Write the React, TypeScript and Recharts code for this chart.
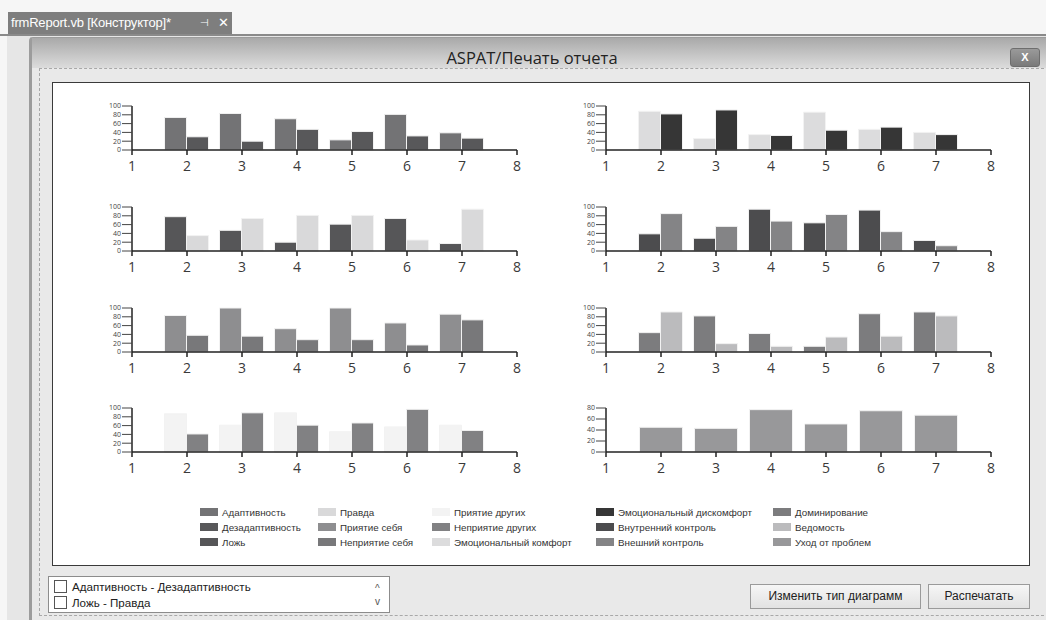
import React from 'react';
import { BarChart, Bar, XAxis, YAxis } from 'recharts';

// шкалы 2..7, ось от 1 до 8
const scaleNums = [2, 3, 4, 5, 6, 7];
const xTicks = [1, 2, 3, 4, 5, 6, 7, 8];
const yTicks100 = [0, 20, 40, 60, 80, 100];
const yTicks80 = [0, 20, 40, 60, 80];

const adaptivnost = [74, 83, 71, 23, 81, 39];
const dezadaptivnost = [30, 20, 47, 42, 32, 27];
const lozh = [78, 47, 20, 61, 74, 17];
const pravda = [35, 74, 81, 81, 25, 95];
const priyatieSebya = [83, 100, 53, 100, 66, 86];
const nepriyatieSebya = [38, 36, 28, 28, 16, 73];
const priyatieDrugih = [87, 61, 89, 46, 57, 61];
const nepriyatieDrugih = [41, 89, 61, 66, 97, 49];
const emoKomfort = [88, 26, 35, 86, 47, 40];
const emoDiskomfort = [82, 91, 33, 45, 52, 35];
const vnutrKontrol = [39, 29, 95, 64, 93, 24];
const vneshKontrol = [85, 56, 68, 83, 44, 12];
const dominirovanie = [44, 82, 42, 13, 87, 91];
const vedomost = [91, 19, 13, 34, 36, 82];
const uhod = [45, 43, 77, 51, 75, 67];

const seriesNames = [
  'Адаптивность', 'Дезадаптивность', 'Ложь',
  'Правда', 'Приятие себя', 'Неприятие себя',
  'Приятие других', 'Неприятие других', 'Эмоциональный комфорт',
  'Эмоциональный дискомфорт', 'Внутренний контроль', 'Внешний контроль',
  'Доминирование', 'Ведомость', 'Уход от проблем',
];
const seriesValues = [
  adaptivnost, dezadaptivnost, lozh,
  pravda, priyatieSebya, nepriyatieSebya,
  priyatieDrugih, nepriyatieDrugih, emoKomfort,
  emoDiskomfort, vnutrKontrol, vneshKontrol,
  dominirovanie, vedomost, uhod,
];
const COLORS = [
  '#737375', '#58585a', '#565658',
  '#d9d9da', '#8e8e90', '#78787a',
  '#f3f3f3', '#818183', '#dcdcdd',
  '#363636', '#4c4c4e', '#848486',
  '#7c7c7e', '#bbbbbd', '#98989a',
];

const checkItems = ['Адаптивность - Дезадаптивность', 'Ложь - Правда'];

// какие шкалы в каком графике + где он стоит
const charts = [
  { idx: [0, 1], left: 132, bottom: 150, yMax: 100 },
  { idx: [2, 3], left: 132, bottom: 251, yMax: 100 },
  { idx: [4, 5], left: 132, bottom: 352, yMax: 100 },
  { idx: [6, 7], left: 132, bottom: 452, yMax: 100 },
  { idx: [8, 9], left: 606, bottom: 150, yMax: 100 },
  { idx: [10, 11], left: 606, bottom: 251, yMax: 100 },
  { idx: [12, 13], left: 606, bottom: 352, yMax: 100 },
  { idx: [14], left: 606, bottom: 452, yMax: 80 },
];

const axisFont = '"Open Sans", "Noto Sans", sans-serif';
const uiFont = '"Liberation Sans", Arial, sans-serif';

function SmallChart({ idx, left, bottom, yMax }: { idx: number[]; left: number; bottom: number; yMax: number }) {
  const data = scaleNums.map((x, i) => {
    const row: Record<string, number> = { x };
    idx.forEach((s) => { row[seriesNames[s]] = seriesValues[s][i]; });
    return row;
  });
  const barSize = idx.length === 1 ? 43 : 22;
  return (
    <div style={{ position: 'absolute', left: left - 32, top: bottom - 50 }}>
      <BarChart width={440} height={90} data={data} margin={{ top: 6, right: 23, left: 0, bottom: 0 }} barGap={0}>
        <XAxis
          type="number"
          dataKey="x"
          domain={[1, 8]}
          ticks={xTicks}
          interval={0}
          height={40}
          tickSize={5}
          tickMargin={6}
          axisLine={{ stroke: '#222', strokeWidth: 1.5 }}
          tickLine={{ stroke: '#222', strokeWidth: 1.5 }}
          tick={{ fontSize: 14, fill: '#3a3a3a', fontFamily: axisFont }}
        />
        <YAxis
          type="number"
          domain={[0, yMax]}
          ticks={yMax === 80 ? yTicks80 : yTicks100}
          interval={0}
          width={32}
          tickSize={10}
          tickMargin={1}
          axisLine={{ stroke: '#222', strokeWidth: 1.5 }}
          tickLine={{ stroke: '#444', strokeWidth: 1 }}
          tick={{ fontSize: 7, fill: '#444', fontFamily: axisFont }}
        />
        {idx.map((s) => (
          <Bar key={s} dataKey={seriesNames[s]} fill={COLORS[s]} barSize={barSize} stroke="#f2f2f2" strokeWidth={1} isAnimationActive={false} />
        ))}
      </BarChart>
    </div>
  );
}

const legendCols = [200, 318, 432, 596, 773];
const legendRows = [513, 528, 543];

export default function App() {
  return (
    <div style={{ position: 'absolute', left: 0, top: 0, width: 1046, height: 620, overflow: 'hidden', background: '#f6f6f6', fontFamily: uiFont }}>
      {/* вкладка студии */}
      <div style={{ position: 'absolute', left: 8, top: 12, width: 224, height: 22, background: '#7e7e7e', color: '#fff', fontSize: 13, lineHeight: '22px', paddingLeft: 3, boxSizing: 'border-box', whiteSpace: 'nowrap', letterSpacing: -0.2 }}>
        frmReport.vb [Конструктор]*
        <span style={{ position: 'absolute', left: 192, fontSize: 10 }}>⊣</span>
        <span style={{ position: 'absolute', left: 210, fontSize: 13 }}>✕</span>
      </div>
      <div style={{ position: 'absolute', left: 0, top: 34, width: 1046, height: 2, background: '#8a8a8a' }} />
      <div style={{ position: 'absolute', left: 7, top: 36, width: 1039, height: 584, background: '#e6e6e6' }} />
      {/* окно формы */}
      <div style={{ position: 'absolute', left: 29, top: 37, width: 1030, height: 600, background: '#e9e9e9', borderLeft: '3px solid #9c9c9c', borderTop: '1px solid #9c9c9c', borderTopLeftRadius: 4 }} />
      <div style={{ position: 'absolute', left: 32, top: 38, width: 1014, height: 30, background: 'linear-gradient(#a9a9a9, #dcdcdc)' }} />
      <div style={{ position: 'absolute', left: 32, top: 43, width: 1000, height: 30, textAlign: 'center', lineHeight: '30px', fontSize: 16.5, color: '#222', fontFamily: axisFont }}>
        ASPAT/Печать отчета
      </div>
      <div style={{ position: 'absolute', left: 1010, top: 48, width: 30, height: 19, borderRadius: 3, border: '1px solid #6e6e6e', boxSizing: 'border-box', background: 'linear-gradient(#9a9a9a, #7a7a7a)', color: '#fff', fontSize: 11, fontWeight: 'bold', textAlign: 'center', lineHeight: '17px' }}>
        X
      </div>
      <div style={{ position: 'absolute', left: 39, top: 68, width: 1010, height: 548, border: '1px dashed #a8a8a8', boxSizing: 'border-box' }} />
      {/* белая панель с графиками */}
      <div style={{ position: 'absolute', left: 52, top: 82, width: 978, height: 484, background: '#fff', border: '1px solid #3a3a3a', boxSizing: 'border-box' }} />
      {charts.map((c, i) => (
        <SmallChart key={i} {...c} />
      ))}
      {/* легенда */}
      {seriesNames.map((name, s) => {
        const col = Math.floor(s / 3);
        const row = s % 3;
        return (
          <div key={name} style={{ position: 'absolute', left: legendCols[col], top: legendRows[row] - 6, height: 12, whiteSpace: 'nowrap', fontSize: 9.8, color: '#333', lineHeight: '12px' }}>
            <span style={{ display: 'inline-block', width: 18, height: 8, background: COLORS[s], verticalAlign: 'middle', marginRight: 4, marginTop: -2 }} />
            {name}
          </div>
        );
      })}
      {/* список и кнопки */}
      <div style={{ position: 'absolute', left: 48, top: 576, width: 342, height: 37, background: '#fff', border: '1px solid #8c8c8c', boxSizing: 'border-box' }}>
        {checkItems.map((t, i) => (
          <div key={t} style={{ position: 'absolute', left: 5, top: 3 + i * 16, height: 15, lineHeight: '14px', fontSize: 11.6, color: '#222', whiteSpace: 'nowrap' }}>
            <span style={{ display: 'inline-block', width: 11, height: 11, border: '1px solid #555', verticalAlign: 'middle', marginRight: 5, marginTop: -2, background: '#fff' }} />
            {t}
          </div>
        ))}
        <div style={{ position: 'absolute', left: 326, top: 6, fontSize: 10, color: '#555' }}>^</div>
        <div style={{ position: 'absolute', left: 326, top: 19, fontSize: 10, color: '#555' }}>v</div>
      </div>
      <div style={{ position: 'absolute', left: 750, top: 584, width: 171, height: 25, border: '1px solid #9a9a9a', boxSizing: 'border-box', background: 'linear-gradient(#f6f6f6, #e2e2e2)', fontSize: 12, color: '#222', textAlign: 'center', lineHeight: '23px' }}>
        Изменить тип диаграмм
      </div>
      <div style={{ position: 'absolute', left: 928, top: 584, width: 102, height: 25, border: '1px solid #9a9a9a', boxSizing: 'border-box', background: 'linear-gradient(#f6f6f6, #e2e2e2)', fontSize: 12, color: '#222', textAlign: 'center', lineHeight: '23px' }}>
        Распечатать
      </div>
    </div>
  );
}
